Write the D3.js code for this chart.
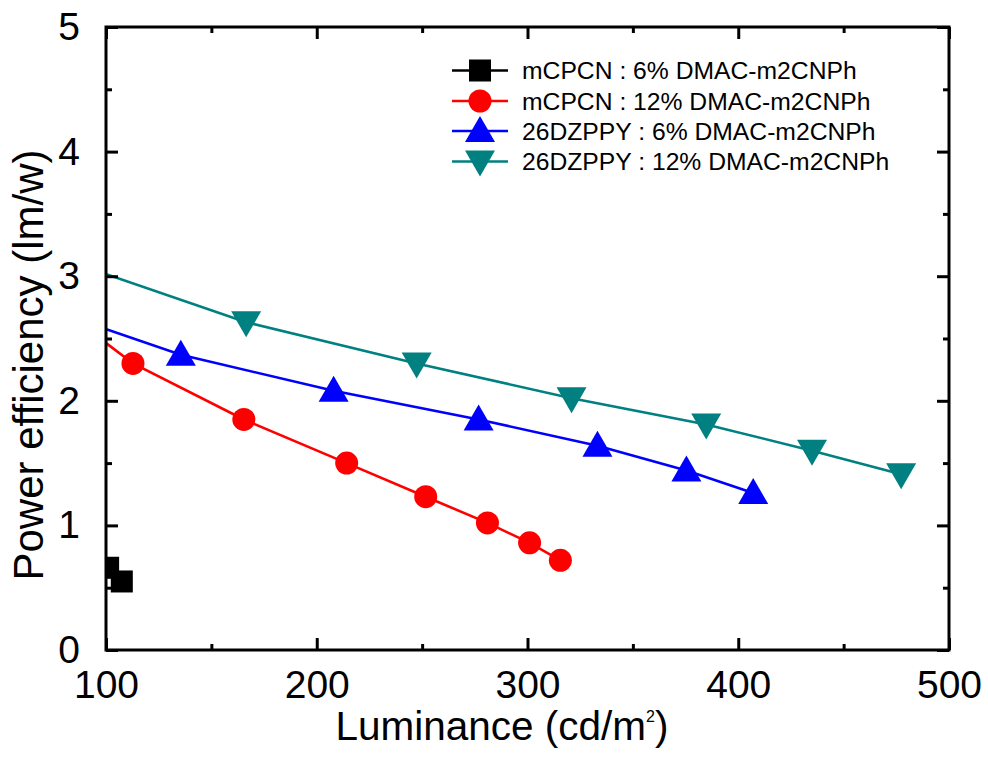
<!DOCTYPE html>
<html><head><meta charset="utf-8">
<script src="https://cdn.jsdelivr.net/npm/d3@7"></script>
<style>body{margin:0;background:#fff}svg{display:block}text{font-family:"Liberation Sans",Arial,sans-serif;fill:#000}</style>
</head><body><div id="chart"></div>
<script>
const seriesNames = ["mCPCN : 6% DMAC-m2CNPh","mCPCN : 12% DMAC-m2CNPh","26DZPPY : 6% DMAC-m2CNPh","26DZPPY : 12% DMAC-m2CNPh"];
const seriesColors = ["#000000","#ff0000","#0000ff","#008080"];
const seriesSymbols = ["square","circle","triangle","triangleDown"];
const blackX = [101, 107.5];
const blackY = [0.66, 0.55];
const redX = [80, 112.8, 165.4, 214.2, 251.7, 281.0, 301.0, 315.6];
const redY = [2.72, 2.30, 1.85, 1.50, 1.23, 1.02, 0.86, 0.72];
const blueX = [70, 135.5, 208, 276.8, 333.2, 375.4, 407.1];
const blueY = [2.75, 2.37, 2.08, 1.85, 1.64, 1.44, 1.26];
const tealX = [60, 166.5, 247.4, 320.9, 384.8, 435, 477.3];
const tealY = [3.25, 2.63, 2.30, 2.02, 1.81, 1.60, 1.41];
const xTicks = [100,200,300,400,500];
const yTicks = [0,1,2,3,4,5];
const xMinor = [150,250,350,450];
const yMinor = [0.5,1.5,2.5,3.5,4.5];

const W=988,H=760, L=106, R=949, T=27, B=650;
const svg=d3.select("#chart").append("svg").attr("width",W).attr("height",H);
const x=d3.scaleLinear().domain([100,500]).range([L,R]);
const y=d3.scaleLinear().domain([0,5]).range([B,T]);

svg.append("clipPath").attr("id","clip").append("rect").attr("x",L).attr("y",T).attr("width",R-L).attr("height",B-T);

const series=[[blackX,blackY],[redX,redY],[blueX,blueY],[tealX,tealY]].map((s,i)=>({name:seriesNames[i],color:seriesColors[i],sym:seriesSymbols[i],pts:s[0].map((v,j)=>[v,s[1][j]])}));

function marker(g,sym,color){
  if(sym==="square") g.append("rect").attr("x",-11).attr("y",-11).attr("width",22).attr("height",22).attr("fill",color);
  else if(sym==="circle") g.append("circle").attr("r",11.5).attr("fill",color);
  else if(sym==="triangle") g.append("path").attr("d","M0,-15L15,11L-15,11Z").attr("fill",color);
  else g.append("path").attr("d","M0,15L15,-11L-15,-11Z").attr("fill",color);
}

const plot=svg.append("g").attr("clip-path","url(#clip)");
const line=d3.line().x(d=>x(d[0])).y(d=>y(d[1]));
series.forEach(s=>{
  plot.append("path").datum(s.pts).attr("d",line).attr("fill","none").attr("stroke",s.color).attr("stroke-width",2.6);
  s.pts.forEach(p=>{ const g=plot.append("g").attr("transform",`translate(${x(p[0])},${y(p[1])})`); marker(g,s.sym,s.color); });
});

// axes (ticks inward, mirrored)
const ax=svg.append("g");
ax.append("g").attr("transform",`translate(0,${B})`).call(d3.axisBottom(x).tickValues(xTicks).tickSize(-12).tickFormat(d3.format("d")).tickPadding(20));
ax.append("g").attr("transform",`translate(0,${T})`).call(d3.axisTop(x).tickValues(xTicks).tickSize(-12).tickFormat(""));
ax.append("g").attr("transform",`translate(${L},0)`).call(d3.axisLeft(y).tickValues(yTicks).tickSize(-12).tickFormat(d3.format("d")).tickPadding(26));
ax.append("g").attr("transform",`translate(${R},0)`).call(d3.axisRight(y).tickValues(yTicks).tickSize(-12).tickFormat(""));
ax.append("g").attr("transform",`translate(0,${B})`).call(d3.axisBottom(x).tickValues(xMinor).tickSize(-6).tickFormat(""));
ax.append("g").attr("transform",`translate(0,${T})`).call(d3.axisTop(x).tickValues(xMinor).tickSize(-6).tickFormat(""));
ax.append("g").attr("transform",`translate(${L},0)`).call(d3.axisLeft(y).tickValues(yMinor).tickSize(-6).tickFormat(""));
ax.append("g").attr("transform",`translate(${R},0)`).call(d3.axisRight(y).tickValues(yMinor).tickSize(-6).tickFormat(""));
ax.selectAll(".domain").remove();
ax.selectAll(".tick line").attr("stroke","#000").attr("stroke-width",3);
ax.selectAll(".tick text").attr("font-size",39).attr("font-family","'Liberation Sans',Arial,sans-serif").attr("fill","#000");
ax.append("rect").attr("x",L).attr("y",T).attr("width",R-L).attr("height",B-T).attr("fill","none").attr("stroke","#000").attr("stroke-width",3);

// titles
const xtitle=svg.append("text").attr("x",502).attr("y",740).attr("text-anchor","middle").attr("font-size",40.5);
xtitle.append("tspan").text("Luminance (cd/m");
xtitle.append("tspan").attr("font-size",16).attr("dy",-18).text("2");
xtitle.append("tspan").attr("dy",18).text(")");
svg.append("text").attr("transform","translate(43,365) rotate(-90)").attr("text-anchor","middle").attr("font-size",42).text("Power efficiency (lm/w)");

// legend
const legY=[70.5,101,131,161.5];
series.forEach((s,i)=>{
  const g=svg.append("g").attr("transform",`translate(0,${legY[i]})`);
  g.append("line").attr("x1",452).attr("x2",508).attr("stroke",s.color).attr("stroke-width",2.6);
  const m=g.append("g").attr("transform","translate(480,0)"); marker(m,s.sym,s.color);
  g.append("text").attr("x",522).attr("y",0).attr("dy","0.35em").attr("font-size",24.7).text(s.name);
});
</script></body></html>
